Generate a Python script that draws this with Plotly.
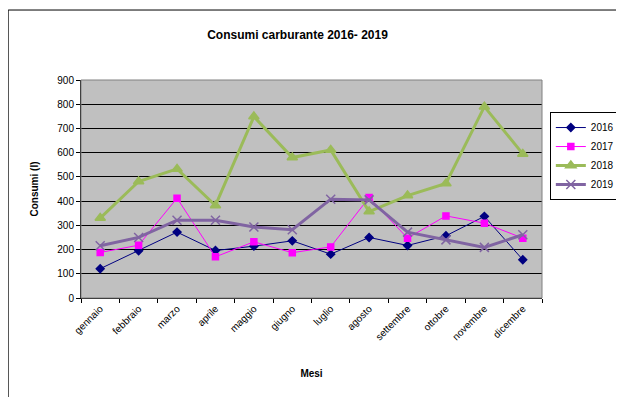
import plotly.graph_objects as go

MESI = ['gennaio', 'febbraio', 'marzo', 'aprile', 'maggio', 'giugno',
        'luglio', 'agosto', 'settembre', 'ottobre', 'novembre', 'dicembre']

Y2016 = [121, 195, 272, 196, 214, 236, 181, 250, 217, 257, 337, 158]
Y2017 = [188, 218, 412, 170, 232, 187, 211, 415, 247, 339, 309, 247]
Y2018 = [330, 481, 533, 382, 749, 580, 611, 357, 423, 473, 790, 595]
Y2019 = [216, 250, 321, 321, 293, 282, 408, 405, 272, 240, 209, 261]

Y_TICKS = [0, 100, 200, 300, 400, 500, 600, 700, 800, 900]

FONT = 'Liberation Sans, Arial, sans-serif'

SERIES = [
    ('2016', Y2016, '#000080', 1, 'diamond', 6),
    ('2017', Y2017, '#FF00FF', 1, 'square', 6),
    ('2018', Y2018, '#9BBB59', 3, 'triangle-up', 9),
    ('2019', Y2019, '#8064A2', 3, 'x-thin-open', 9),
]

fig = go.Figure()
for name, ys, col, w, sym, sz in SERIES:
    fig.add_trace(go.Scatter(
        x=MESI, y=ys, name=name, mode='lines+markers',
        line=dict(color=col, width=w),
        marker=dict(symbol=sym, size=sz, color=col,
                    line=dict(color=col, width=1.5)),
    ))

# page has an 8px body margin, so the figure is sized to the visible area
fig.update_layout(
    width=616, height=389,
    margin=dict(l=73, r=82, t=72, b=99, autoexpand=False),
    paper_bgcolor='white', plot_bgcolor='#C0C0C0',
    font=dict(family=FONT, size=10, color='black'),
    title=dict(text='<b>Consumi carburante 2016- 2019</b>', x=0.470, xref='container',
               xanchor='center', y=0.931, yref='container', yanchor='middle',
               font=dict(size=12)),
    showlegend=True,
    legend=dict(x=1.017, y=0.853, xanchor='left', yanchor='top',
                bordercolor='black', borderwidth=1, bgcolor='white',
                font=dict(size=10), tracegroupgap=0, itemwidth=30),
    xaxis=dict(
        type='category', range=[-0.5, 11.5], tickangle=-45, automargin=False,
        showgrid=False, showline=True, linecolor='black', linewidth=1,
        ticks='outside', tickson='boundaries', ticklen=4, tickcolor='black',
        title=dict(text='<b>Mesi</b>', standoff=28, font=dict(size=10)),
        tickfont=dict(size=10),
    ),
    yaxis=dict(
        range=[0, 900], tickvals=Y_TICKS, showgrid=True, gridcolor='black',
        gridwidth=1, zeroline=False, showline=True, linecolor='black',
        linewidth=1, ticks='outside', ticklen=4, tickcolor='black', automargin=False,
        title=dict(text='<b>Consumi (l)</b>', standoff=16, font=dict(size=10)),
        tickfont=dict(size=10),
    ),
    shapes=[
        dict(type='rect', xref='paper', yref='paper', x0=0, x1=1, y0=0, y1=1,
             line=dict(color='#808080', width=1), layer='above'),
        dict(type='rect', xref='paper', yref='paper', x0=-0.158, x1=1.2,
             y0=-0.5, y1=1.321, line=dict(color='black', width=1)),
    ],
)

fig.write_html('out.html')
